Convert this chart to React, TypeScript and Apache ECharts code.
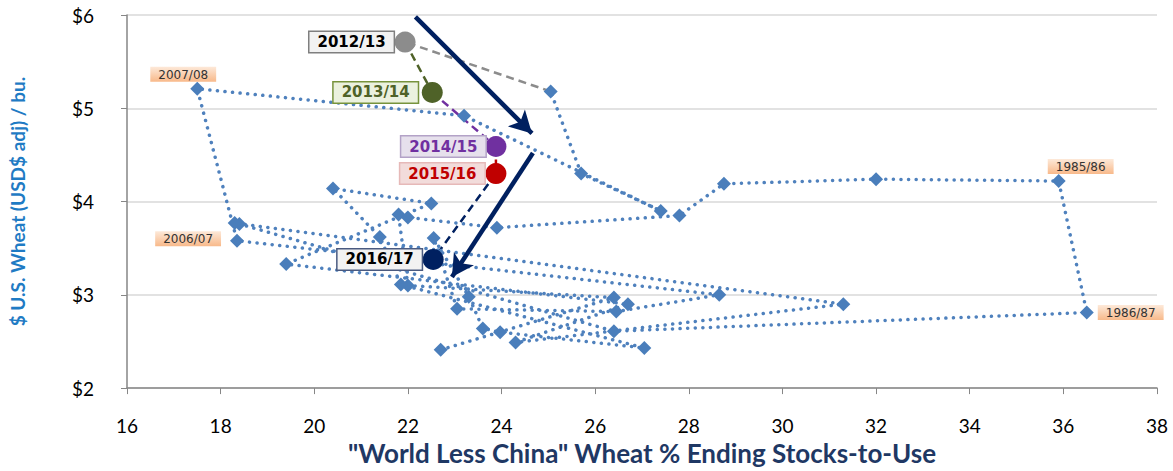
import { useEffect, useRef } from "react";
import * as echarts from "echarts";

// Historical marketing years (chronological), stocks-to-use % and adjusted price
const histYears = [
  "1976/77", "1977/78", "1978/79", "1979/80", "1980/81", "1981/82", "1982/83", "1983/84", "1984/85",
  "1985/86", "1986/87", "1987/88", "1988/89", "1989/90", "1990/91", "1991/92", "1992/93", "1993/94",
  "1994/95", "1995/96", "1996/97", "1997/98", "1998/99", "1999/00", "2000/01", "2001/02", "2002/03",
  "2003/04", "2004/05", "2005/06", "2006/07", "2007/08", "2008/09", "2009/10", "2010/11", "2011/12",
];
const histStocks = [
  22.7, 26.4, 22.0, 21.8, 22.0, 23.9, 27.8, 28.75, 32.0,
  35.9, 36.5, 26.4, 18.4, 18.3, 31.3, 24.3, 26.7, 19.4,
  22.5, 20.4, 21.4, 21.85, 27.05, 23.97, 23.6, 23.3, 22.55,
  23.05, 26.45, 28.65, 18.35, 17.5, 23.2, 27.4, 25.7, 25.05,
];
const histPrices = [
  2.41, 2.97, 3.10, 3.86, 3.83, 3.72, 3.85, 4.19, 4.24,
  4.22, 2.81, 2.61, 3.76, 3.77, 2.90, 2.49, 2.90, 3.33,
  3.98, 4.14, 3.62, 3.11, 2.43, 2.60, 2.64, 2.98, 3.61,
  2.85, 2.82, 3.00, 3.58, 5.21, 4.92, 3.90, 4.30, 5.18,
];
const labelledYears = ["2007/08", "2006/07", "1985/86", "1986/87"];

const recentYears = ["2012/13", "2013/14", "2014/15", "2015/16", "2016/17"];
const recentStocks = [21.94, 22.52, 23.88, 23.88, 22.54];
const recentPrices = [5.71, 5.17, 4.59, 4.3, 3.38];

const xMin = 16;
const xMax = 38;
const xStep = 2;
const yMin = 2;
const yMax = 6;
const yStep = 1;

const arrowStarts = [[22.16, 5.98], [24.67, 4.52]];
const arrowEnds = [[24.65, 4.73], [22.94, 3.19]];

const recentColors = ["#8C8C8C", "#4F6228", "#7030A0", "#C00000", "#002060"];
const recentFill = ["#F2F2F2", "#EBF1DE", "#E6E0EC", "#F2DCDB", "#F2F2F2"];
const recentBorder = ["#7F7F7F", "#77933C", "#B3A2C7", "#E6B9B8", "#4A5A80"];
const recentText = ["#000000", "#4F6228", "#7030A0", "#C00000", "#000000"];
const recentDist = [1, 4, 0, 1, 1];

const blue = "#4A7EBB";

export default function App() {
  const ref = useRef<HTMLDivElement>(null);
  useEffect(() => {
    if (!ref.current) return;
    const chart = echarts.init(ref.current, null, { renderer: "svg" });

    const peach = new echarts.graphic.LinearGradient(0, 0, 0, 1, [
      { offset: 0, color: "#FDE9D9" },
      { offset: 1, color: "#F8B98A" },
    ]);
    const smallLabel = (position: any, distance: number, offset: number[]) => ({
      show: true,
      position,
      distance,
      offset,
      formatter: "{b}",
      fontFamily: "DejaVu Sans",
      fontSize: 12,
      color: "#333333",
      backgroundColor: peach,
      padding: [2, 8, 1, 8],
    });
    const labelCfg: Record<string, any> = {
      "2007/08": smallLabel("top", 0, [-14, 0]),
      "2006/07": smallLabel("left", 9, [0, -2]),
      "1985/86": smallLabel("top", 0, [22, 0]),
      "1986/87": smallLabel("right", 4, [0, 0]),
    };

    const histData = histYears.map((yr, i) => {
      const item: any = { name: yr, value: [histStocks[i], histPrices[i]] };
      if (labelledYears.includes(yr)) item.label = labelCfg[yr];
      return item;
    });

    const series: any[] = [];
    const lastIdx = histYears.indexOf("2011/12");
    const chainX = [histStocks[lastIdx], ...recentStocks];
    const chainY = [histPrices[lastIdx], ...recentPrices];
    for (let i = 0; i < recentYears.length; i++) {
      series.push({
        type: "line",
        data: [
          [chainX[i], chainY[i]],
          [chainX[i + 1], chainY[i + 1]],
        ],
        symbol: "none",
        silent: true,
        lineStyle: { color: recentColors[i], width: 2.5, type: [8, 5] },
        z: 3,
      });
    }
    series.push({
      type: "line",
      data: histData,
      symbol: "diamond",
      symbolSize: 14,
      itemStyle: { color: blue },
      lineStyle: { color: "#4F81BD", width: 3.5, type: [0.1, 7.5], cap: "round" },
      label: { show: false },
      z: 4,
    });
    recentYears.forEach((yr, i) => {
      series.push({
        type: "scatter",
        data: [{ name: yr, value: [recentStocks[i], recentPrices[i]] }],
        symbol: "circle",
        symbolSize: 21,
        itemStyle: { color: recentColors[i], opacity: 1 },
        label: {
          show: true,
          position: "left",
          distance: recentDist[i],
          formatter: "{b}",
          fontFamily: "DejaVu Sans",
          fontWeight: "bold",
          fontSize: 15,
          color: recentText[i],
          backgroundColor: recentFill[i],
          borderColor: recentBorder[i],
          borderWidth: 1.5,
          padding: [3, 8, 2, 8],
        },
        z: 6,
      });
    });
    series.push({
      type: "line",
      data: [],
      silent: true,
      z: 7,
      markLine: {
        silent: true,
        symbol: ["none", "arrow"],
        symbolSize: [18, 22],
        label: { show: false },
        lineStyle: { color: "#002060", width: 4.5, type: "solid" },
        data: arrowStarts.map((s, i) => [{ coord: s }, { coord: arrowEnds[i] }]),
      },
    });

    chart.setOption({
      animation: false,
      backgroundColor: "#ffffff",
      grid: { left: 124, right: 16, top: 15, bottom: 73, containLabel: false },
      xAxis: {
        type: "value",
        min: xMin,
        max: xMax,
        interval: xStep,
        name: '"World Less China" Wheat % Ending Stocks-to-Use',
        nameLocation: "middle",
        nameGap: 45,
        nameTextStyle: { fontFamily: "Lato", fontWeight: "bold", fontSize: 26, color: "#1F3864" },
        axisLine: { lineStyle: { color: "#868686", width: 1.5 } },
        axisTick: { show: true, inside: false, length: 6, lineStyle: { color: "#868686" } },
        axisLabel: { fontFamily: "Lato", fontSize: 19, color: "#000", margin: 28 },
        splitLine: { show: false },
      },
      yAxis: {
        type: "value",
        min: yMin,
        max: yMax,
        interval: yStep,
        name: "$ U.S. Wheat (USD$ adj) / bu.",
        nameLocation: "middle",
        nameGap: 100,
        nameTextStyle: { fontFamily: "Lato", fontWeight: "bold", fontSize: 19, color: "#1F7BC4" },
        axisLine: { show: true, lineStyle: { color: "#868686", width: 1.5 } },
        axisTick: { show: true, inside: false, length: 6, lineStyle: { color: "#868686" } },
        axisLabel: { fontFamily: "Lato", fontSize: 19, color: "#000", margin: 33, formatter: (v: number) => "$" + v },
        splitLine: { show: true, lineStyle: { color: "#D9D9D9", width: 1.5 } },
      },
      series,
    });
    return () => chart.dispose();
  }, []);
  return (
    <div ref={ref} style={{ position: "fixed", left: 0, top: 0, width: 1173, height: 471 }} />
  );
}
